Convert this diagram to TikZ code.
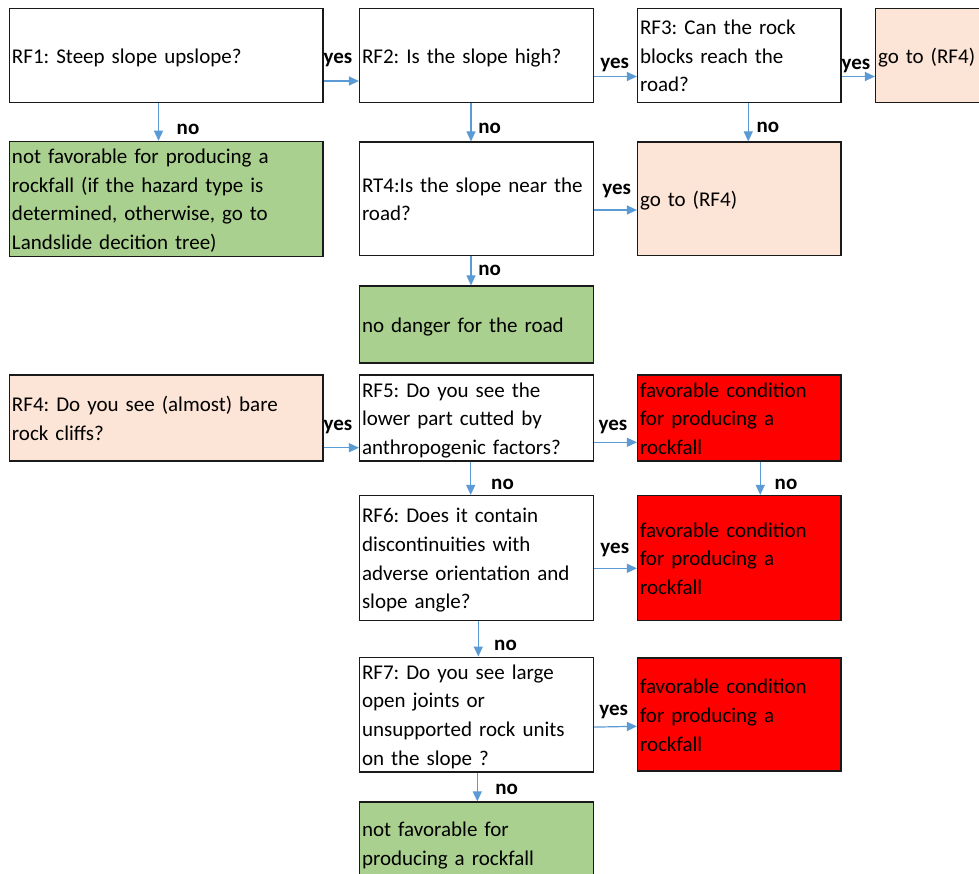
\documentclass[tikz,border=0pt]{standalone}
\usepackage{fontspec}
\setmainfont{Carlito}
\usetikzlibrary{arrows.meta,calc}
\frenchspacing

\definecolor{boxline}{HTML}{1A1A1A}
\definecolor{arrowblue}{HTML}{5B9BD5}
\definecolor{okgreen}{HTML}{A9D08E}
\definecolor{peach}{HTML}{FCE4D6}
\definecolor{alarmred}{HTML}{FF0000}

% line strut: every text line is 28.7pt tall
\newcommand\linestrut{\rule[-6.55pt]{0pt}{28.7pt}}

\tikzset{
  box/.style={draw=boxline, line width=1.2pt, rectangle, inner xsep=2.5pt, inner ysep=0pt,
    align=left, font=\fontsize{21}{28.7}\selectfont\frenchspacing,
    execute at begin node=\linestrut, execute at end node=\linestrut},
  question/.style={box, fill=white},
  goodbox/.style={box, fill=okgreen},
  gotobox/.style={box, fill=peach},
  badbox/.style={box, fill=alarmred},
  arr/.style={draw=arrowblue, line width=1.2pt, -{Triangle[length=10pt,width=9pt]}},
  lbl/.style={font=\fontsize{21}{25}\selectfont\bfseries, anchor=base, inner sep=0pt},
}

\begin{document}
\begin{tikzpicture}[x=1pt,y=-1pt]
\clip (0,0) rectangle (979,874);
\fill[white] (0,0) rectangle (979,874);

% first row
\node[question, minimum width=313.5pt, minimum height=94pt, text width=308.5pt] (rf1) at (166.25,55.5) {RF1: Steep slope upslope?};
\node[question, minimum width=234pt, minimum height=94pt, text width=229pt] (rf2) at (476.5,55.5) {RF2: Is the slope high?};
\node[question, minimum width=203.5pt, minimum height=94pt, text width=198.5pt] (rf3) at (739.25,55.5) {RF3: Can the rock\\blocks reach the\\road?};
\node[gotobox, minimum width=124.5pt, minimum height=94pt, text width=119.5pt] (go1) at (937.75,55.5) {go to (RF4)};

% second row
\node[goodbox, minimum width=313.5pt, minimum height=113.5pt, text width=308.5pt] (nf1) at (166.25,198.75) {not favorable for producing a\\rockfall (if the hazard type is\\determined, otherwise, go to\\Landslide decition tree)};
\node[question, minimum width=234pt, minimum height=113.5pt, text width=229pt] (rt4) at (476.5,198.75) {RT4:Is the slope near the\\road?};
\node[gotobox, minimum width=203.5pt, minimum height=113.5pt, text width=198.5pt] (go2) at (739.25,198.75) {go to (RF4)};

\node[goodbox, minimum width=234pt, minimum height=77pt, text width=229pt] (nd) at (476.5,324.5) {no danger for the road};

% RF4 block
\node[gotobox, minimum width=313.5pt, minimum height=86pt, text width=308.5pt] (rf4) at (166.25,418) {RF4: Do you see (almost) bare\\rock cliffs?};
\node[question, minimum width=234pt, minimum height=86pt, text width=229pt] (rf5) at (476.5,418) {RF5: Do you see the\\lower part cutted by\\anthropogenic factors?};
\node[badbox, minimum width=203.5pt, minimum height=86pt, text width=198.5pt] (fc1) at (739.25,418) {favorable condition\\for producing a\\rockfall};

\node[question, minimum width=234pt, minimum height=125pt, text width=229pt] (rf6) at (476.5,558) {RF6: Does it contain\\discontinuities with\\adverse orientation and\\slope angle?};
\node[badbox, minimum width=203.5pt, minimum height=125pt, text width=198.5pt] (fc2) at (739.25,558) {favorable condition\\for producing a\\rockfall};

\node[question, minimum width=234pt, minimum height=113pt, text width=229pt] (rf7) at (476.5,714.5) {RF7: Do you see large\\open joints or\\unsupported rock units\\on the slope ?};
\node[badbox, minimum width=203.5pt, minimum height=113pt, text width=198.5pt] (fc3) at (739.25,714.5) {favorable condition\\for producing a\\rockfall};

\node[goodbox, minimum width=234pt, minimum height=82pt, text width=229pt] (nf2) at (476.5,843) {not favorable for\\producing a rockfall};

% connectors
\draw[arr] ($(rf1.east)+(0,25.5)$) -- ($(rf2.west)+(0,25.5)$);
\draw[arr] ($(rf2.east)+(0,21)$) -- ($(rf3.west)+(0,21)$);
\draw[arr] ($(rf3.east)+(0,21)$) -- ($(go1.west)+(0,21)$);
\draw[arr] ($(rf1.south)+(-7.75,0)$) -- ($(nf1.north)+(-7.75,0)$);
\draw[arr] ($(rf2.south)+(-5.5,0)$) -- ($(rt4.north)+(-5.5,0)$);
\draw[arr] ($(rf3.south)+(9,0)$) -- ($(go2.north)+(9,0)$);
\draw[arr] ($(rt4.east)+(0,11.25)$) -- ($(go2.west)+(0,11.25)$);
\draw[arr] ($(rt4.south)+(-5.5,0)$) -- ($(nd.north)+(-5.5,0)$);
\draw[arr] ($(rf4.east)+(0,29.7)$) -- ($(rf5.west)+(0,29.7)$);
\draw[arr] ($(rf5.east)+(0,24.3)$) -- ($(fc1.west)+(0,24.3)$);
\draw[arr] ($(rf5.south)+(-5.8,0)$) -- ($(rf6.north)+(-5.8,0)$);
\draw[arr] ($(fc1.south)+(21,0)$) -- ($(fc2.north)+(21,0)$);
\draw[arr] ($(rf6.east)+(0,10.3)$) -- ($(fc2.west)+(0,10.3)$);
\draw[arr] ($(rf6.south)+(1.8,0)$) -- ($(rf7.north)+(1.8,0)$);
\draw[arr] ($(rf7.east)+(0,12.6)$) -- ($(fc3.west)+(0,11.8)$);
\draw[arr] ($(rf7.south)+(0.8,0)$) -- ($(nf2.north)+(0.8,0)$);

% branch labels
\node[lbl] (y1) at (338,63.3) {yes};
\node[lbl] (y2) at (614.7,68.3) {yes};
\node[lbl] (y3) at (856,69.3) {yes};
\node[lbl] (n1) at (188,135) {no};
\node[lbl] (n2) at (489.7,133.3) {no};
\node[lbl] (n3) at (767.8,132.7) {no};
\node[lbl] (y4) at (616.7,195) {yes};
\node[lbl] (n4) at (489.7,276) {no};
\node[lbl] (y5) at (338,430) {yes};
\node[lbl] (y6) at (613,430) {yes};
\node[lbl] (n5) at (502.5,489.3) {no};
\node[lbl] (n6) at (786,489.3) {no};
\node[lbl] (y7) at (614.8,553.3) {yes};
\node[lbl] (n7) at (505.5,650) {no};
\node[lbl] (y8) at (613.7,715) {yes};
\node[lbl] (n8) at (506.7,794) {no};
\end{tikzpicture}
\end{document}
